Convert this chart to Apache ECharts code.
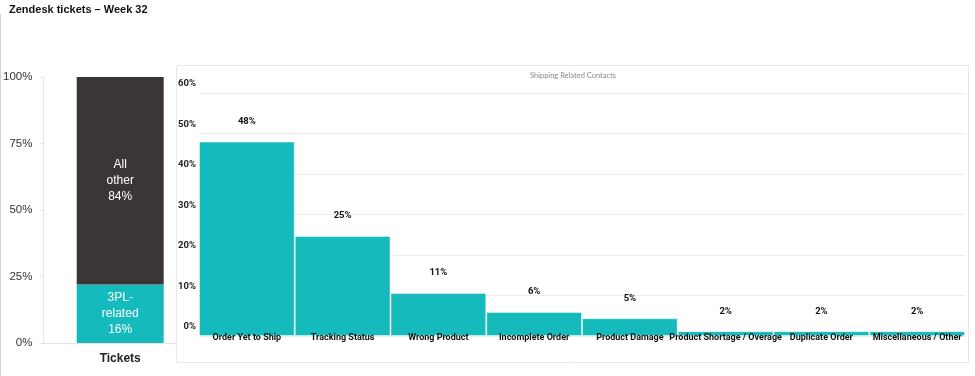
<!DOCTYPE html>
<html>
<head>
<meta charset="utf-8">
<script src="https://cdn.jsdelivr.net/npm/echarts@6/dist/echarts.min.js"></script>
<style>
  html, body { margin: 0; padding: 0; background: #fff; }
  #main { width: 975px; height: 376px; }
</style>
</head>
<body>
<div id="main"></div>
<script>
// left: share of tickets (bar heights as drawn, labels as printed)
var ticketCats = ['Tickets'];
var share3pl = [22];
var shareOther = [78];
var label3pl = '3PL-\nrelated\n16%';
var labelOther = 'All\nother\n84%';

// right: shipping related contacts
var contactCats = ['Order Yet to Ship', 'Tracking Status', 'Wrong Product', 'Incomplete Order',
  'Product Damage', 'Product Shortage / Overage', 'Duplicate Order', 'Miscellaneous / Other'];
var contactVals = [48, 24.7, 10.6, 5.9, 4.4, 1.2, 1.2, 1.2];
var contactLabels = ['48%', '25%', '11%', '6%', '5%', '2%', '2%', '2%'];

var TEAL = '#15BBBC';
var DARK = '#3A3636';
var NARROW = 'Roboto, sans-serif';

var myChart = echarts.init(document.getElementById('main'));

var option = {
  animation: false,
  title: [
    {
      text: 'Zendesk tickets – Week 32',
      left: 9, top: 4, padding: 0,
      textStyle: { fontFamily: 'Liberation Sans', fontWeight: 'bold', fontSize: 11, color: '#111' }
    },
    {
      text: 'Shipping Related Contacts',
      left: 573, top: 72, textAlign: 'center', padding: 0,
      textStyle: { fontFamily: 'Lato, sans-serif', fontWeight: 'normal', fontSize: 7.5, color: '#888' }
    }
  ],
  graphic: [
    { type: 'line', shape: { x1: 0.5, y1: 14, x2: 0.5, y2: 376 }, style: { stroke: '#d0d0d0', lineWidth: 1 }, z: 1 },
    { type: 'rect', shape: { x: 176.5, y: 65.5, width: 792, height: 297 }, style: { fill: '#fff', stroke: '#e8e8e8', lineWidth: 1 }, z: 1 }
  ],
  grid: [
    { left: 42, top: 77, width: 155, height: 266 },
    { left: 199, top: 93, width: 766, height: 243 }
  ],
  xAxis: [
    {
      gridIndex: 0, type: 'category', data: ticketCats,
      axisLine: { lineStyle: { color: '#e2e2e2' } },
      axisTick: { show: false },
      axisLabel: { margin: 10, fontFamily: 'Liberation Sans', fontWeight: 'bold', fontSize: 12, color: '#222' }
    },
    {
      gridIndex: 1, type: 'category', data: contactCats, z: 3,
      axisLine: { show: false },
      axisTick: { show: false },
      axisLabel: { interval: 0, margin: -3, fontFamily: NARROW, fontWeight: 'bold', fontSize: 9, color: '#111' }
    }
  ],
  yAxis: [
    {
      gridIndex: 0, type: 'value', min: 0, max: 100, interval: 25,
      axisLine: { show: true, lineStyle: { color: '#e6e6e6' } },
      axisTick: { show: true, length: 4, lineStyle: { color: '#e6e6e6' } },
      splitLine: { show: false },
      axisLabel: { formatter: '{value}%', margin: 11, fontFamily: 'Liberation Sans', fontSize: 11.5, color: '#333' }
    },
    {
      gridIndex: 1, type: 'value', min: 0, max: 60, interval: 10, z: 1.5,
      axisLine: { show: false },
      axisTick: { show: false },
      splitLine: { lineStyle: { color: '#ececec' } },
      axisLabel: {
        formatter: '{value}%', margin: 3, verticalAlign: 'bottom', padding: [0, 0, 4, 0],
        fontFamily: NARROW, fontWeight: 'bold', fontSize: 9.5, color: '#222'
      }
    }
  ],
  series: [
    {
      type: 'bar', xAxisIndex: 0, yAxisIndex: 0, stack: 'tix', barWidth: 87,
      data: share3pl, itemStyle: { color: TEAL },
      label: { show: true, position: 'inside', formatter: label3pl, color: '#fff',
        fontFamily: 'Liberation Sans', fontSize: 12, lineHeight: 16 }
    },
    {
      type: 'bar', xAxisIndex: 0, yAxisIndex: 0, stack: 'tix', barWidth: 87,
      data: shareOther, itemStyle: { color: DARK },
      label: { show: true, position: 'inside', formatter: labelOther, color: '#fff',
        fontFamily: 'Liberation Sans', fontSize: 12, lineHeight: 16 }
    },
    {
      type: 'bar', xAxisIndex: 1, yAxisIndex: 1, barCategoryGap: '0%',
      data: contactVals,
      itemStyle: { color: TEAL, borderColor: 'rgba(255,255,255,0.45)', borderWidth: 1 },
      label: {
        show: true, position: 'top', distance: 15,
        formatter: function (p) { return contactLabels[p.dataIndex]; },
        fontFamily: NARROW, fontWeight: 'bold', fontSize: 9.5, color: '#111'
      }
    }
  ]
};

myChart.setOption(option);
</script>
</body>
</html>
